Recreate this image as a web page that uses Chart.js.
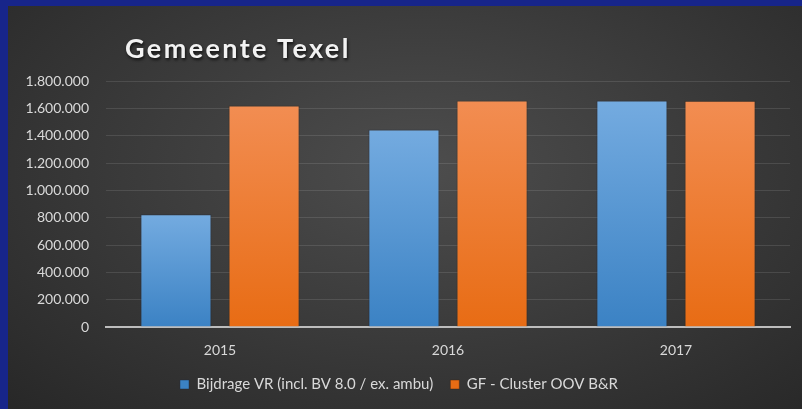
<!DOCTYPE html>
<html>
<head>
<meta charset="utf-8">
<script src="https://cdn.jsdelivr.net/npm/chart.js@4/dist/chart.umd.min.js"></script>
<style>
  html, body { margin:0; padding:0; width:802px; height:409px; overflow:hidden; background:#17258a; }
  .frame {
    position:absolute; left:8px; top:6px; width:794px; height:403px;
    background: radial-gradient(ellipse 75% 85% at 52% 40%, #4d4d4d 0%, #3c3c3c 45%, #272727 100%);
  }
  .title {
    position:absolute; left:117px; top:25px;
    font-family: Lato, sans-serif; font-weight:700; font-size:27px; letter-spacing:2.4px;
    color:#f2f2f2; text-shadow: 1px 2px 3px rgba(0,0,0,0.7);
    white-space:nowrap;
  }
  canvas { position:absolute; left:0; top:0; }
</style>
</head>
<body>
<div class="frame">
  <canvas id="chart" width="794" height="403"></canvas>
  <div class="title">Gemeente Texel</div>
</div>
<script>
/* ── DATA ──────────────────────────────── */
const YEARS       = ['2015', '2016', '2017'];
const BIJDRAGE_VR = [825000, 1445000, 1658000];
const GF_CLUSTER  = [1620000, 1657000, 1655000];
const SERIES      = ['Bijdrage VR (incl. BV 8.0 / ex. ambu)', 'GF - Cluster OOV B&R'];
const Y_MAX  = 1800000;
const Y_STEP = 200000;

const TEXT = '#d9d9d9';
const FONT = 'Lato, sans-serif';

// dutch thousands separator: 1.800.000
function fmt(v) {
  return String(Math.round(v)).replace(/\B(?=(\d{3})+(?!\d))/g, '.');
}

// vertical gradient per bar, light at its top, darker at the base
function barFill(top, bottom) {
  return ctx => {
    const chart = ctx.chart;
    const area = chart.chartArea;
    if (!area || ctx.parsed == null) return bottom;
    const y0 = chart.scales.y.getPixelForValue(ctx.parsed.y);
    const g = chart.ctx.createLinearGradient(0, y0, 0, area.bottom);
    g.addColorStop(0, top);
    g.addColorStop(1, bottom);
    return g;
  };
}

new Chart(document.getElementById('chart'), {
  type: 'bar',
  data: {
    labels: YEARS,
    datasets: [
      {
        label: SERIES[0],
        data: BIJDRAGE_VR,
        backgroundColor: barFill('#74abe0', '#3b82c4'),
        borderColor: 'rgba(30,40,60,0.45)',
        borderWidth: 1,
        categoryPercentage: 0.773,
        barPercentage: 0.807,
      },
      {
        label: SERIES[1],
        data: GF_CLUSTER,
        backgroundColor: barFill('#f28d52', '#e86c14'),
        borderColor: 'rgba(60,35,20,0.45)',
        borderWidth: 1,
        categoryPercentage: 0.773,
        barPercentage: 0.807,
      }
    ]
  },
  options: {
    responsive: false,
    animation: false,
    layout: { padding: { top: 75, right: 12, left: 0, bottom: 7 } },
    plugins: {
      tooltip: { enabled: false },
      legend: {
        position: 'bottom',
        labels: {
          color: TEXT,
          font: { family: FONT, size: 15 },
          boxWidth: 9, boxHeight: 9,
          padding: 17,
        }
      }
    },
    scales: {
      x: {
        grid: { display: false, drawTicks: false },
        border: { display: true, color: '#bdbdbd', width: 2 },
        ticks: { color: TEXT, font: { family: FONT, size: 14 }, padding: 15 },
        afterFit(scale) { scale.height = 33; }
      },
      y: {
        min: 0, max: Y_MAX,
        grid: {
          color: ctx => ctx.tick && ctx.tick.value === 0 ? 'rgba(0,0,0,0)' : 'rgba(255,255,255,0.11)',
          drawTicks: false,
        },
        border: { display: false },
        ticks: {
          stepSize: Y_STEP,
          color: TEXT,
          font: { family: FONT, size: 14 },
          padding: 17,
          callback: v => fmt(v),
        },
        afterFit(scale) { scale.width = 98; }
      }
    }
  }
});
</script>
</body>
</html>
